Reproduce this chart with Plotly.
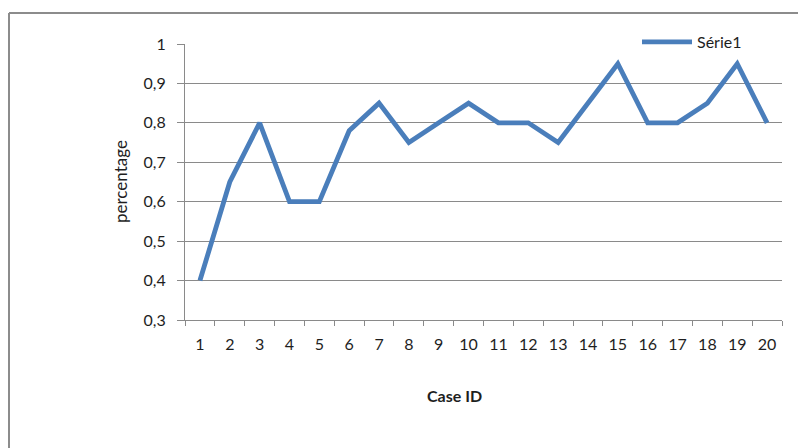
import plotly.graph_objects as go

case_ids = [str(i) for i in range(1, 21)]
percentage = [0.40, 0.65, 0.80, 0.60, 0.60, 0.78, 0.85, 0.75, 0.80, 0.85,
              0.80, 0.80, 0.75, 0.85, 0.95, 0.80, 0.80, 0.85, 0.95, 0.80]
y_tickvals = [0.3, 0.4, 0.5, 0.6, 0.7, 0.8, 0.9, 1.0]
y_ticktext = ["0,3", "0,4", "0,5", "0,6", "0,7", "0,8", "0,9", "1"]
series_name = "Série1"

# page has an 8px body margin: figure origin sits at (8, 8) of the window
OFF = 8
W, H = 806, 448
L, T = 185 - OFF, 44 - OFF
R = W - (782 - OFF)
B = H - (320 - OFF)
pw, ph = W - L - R, H - T - B

def px_x(x):
    return (x - OFF - L) / pw

def px_y(y):
    return 1 - (y - OFF - T) / ph

FONT = "Lato, 'Liberation Sans', sans-serif"
GRID = "#8a8a8a"
TXT = "#1e1e1e"

fig = go.Figure()
fig.add_trace(go.Scatter(
    x=case_ids, y=percentage, mode="lines", name=series_name,
    line=dict(color="#4a7ebb", width=4.8), showlegend=True,
))

fig.update_layout(
    width=W, height=H, autosize=False,
    margin=dict(l=L, r=R, t=T, b=B, pad=0),
    paper_bgcolor="white", plot_bgcolor="white",
    font=dict(family=FONT, size=16, color=TXT),
    showlegend=True,
    legend=dict(x=px_x(637), y=px_y(42), xanchor="left", yanchor="middle",
                bgcolor="rgba(0,0,0,0)", font=dict(size=16, color=TXT),
                itemwidth=50, borderwidth=0),
    xaxis=dict(type="category", range=[-0.5, 19.5], tickson="boundaries",
               ticks="outside", ticklen=5, tickcolor=GRID, tickwidth=1,
               showline=True, linecolor=GRID, linewidth=1, showgrid=False,
               zeroline=False, ticklabelstandoff=10,
               tickfont=dict(size=16, color=TXT)),
    yaxis=dict(range=[0.3, 1.0], tickvals=y_tickvals, ticktext=y_ticktext,
               ticks="outside", ticklen=7, tickcolor=GRID, tickwidth=1,
               showline=True, linecolor=GRID, linewidth=1,
               showgrid=True, gridcolor=GRID, gridwidth=1, zeroline=False,
               ticklabelstandoff=8,
               tickfont=dict(size=16, color=TXT)),
    annotations=[
        dict(text="percentage", x=px_x(120), y=px_y(182), xref="paper", yref="paper",
             textangle=-90, showarrow=False, font=dict(size=17, color=TXT),
             xanchor="center", yanchor="middle"),
        dict(text="<b>Case ID</b>", x=px_x(454), y=px_y(395), xref="paper", yref="paper",
             showarrow=False, font=dict(size=16, color=TXT),
             xanchor="center", yanchor="middle"),
    ],
    shapes=[
        dict(type="line", xref="paper", yref="paper",
             x0=px_x(9), x1=px_x(9), y0=px_y(13), y1=px_y(470),
             line=dict(color="#8c8c8c", width=2)),
        dict(type="line", xref="paper", yref="paper",
             x0=px_x(9), x1=px_x(830), y0=px_y(13), y1=px_y(13),
             line=dict(color="#8c8c8c", width=2)),
    ],
)

fig.write_html("out.html")
